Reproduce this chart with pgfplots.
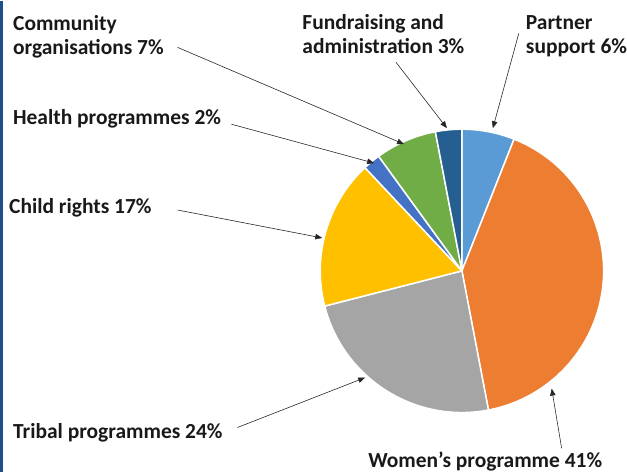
\documentclass[border=0pt]{standalone}
\usepackage{pgfplots}
\usepackage{pgfplotstable}
\pgfplotsset{compat=1.18}
\usetikzlibrary{arrows.meta}
\usepackage{fontspec}
\setmainfont{Carlito}

\definecolor{cpartner}{HTML}{5B9BD5}
\definecolor{cwomen}{HTML}{ED7D31}
\definecolor{ctribal}{HTML}{A5A5A5}
\definecolor{cchild}{HTML}{FFC000}
\definecolor{chealth}{HTML}{4472C4}
\definecolor{ccomm}{HTML}{70AD47}
\definecolor{cfund}{HTML}{255E91}
\definecolor{frame}{HTML}{1F4E8C}

% share of each area, clockwise from 12 o'clock
\pgfplotstableread[col sep=comma]{
name,value,color
Partner support,6,cpartner
Women's programme,41,cwomen
Tribal programmes,24,ctribal
Child rights,17,cchild
Health programmes,2,chealth
Community organisations,7,ccomm
Fundraising and administration,3,cfund
}\piedata

\begin{document}
\begin{tikzpicture}[
    lbl/.style={font=\fontsize{21.5}{24}\selectfont\bfseries, text=black!90, inner sep=0pt},
    lead/.style={black!85, line width=0.6pt, -{Triangle[length=7pt,width=5.5pt]}},
]
\begin{axis}[
    hide axis, scale only axis,
    width=627pt, height=472pt,
    xmin=0, xmax=627, ymin=0, ymax=472,
    clip=false,
]
\path (axis cs:0,0) rectangle (axis cs:627,472);

\def\cumul{0}
\pgfplotsforeachungrouped \i in {0,...,6} {
    \pgfplotstablegetelem{\i}{value}\of\piedata \let\v=\pgfplotsretval
    \pgfplotstablegetelem{\i}{color}\of\piedata \let\c=\pgfplotsretval
    \pgfmathsetmacro\a{90-3.6*\cumul}
    \pgfmathsetmacro\b{90-3.6*(\cumul+\v)}
    \edef\temp{\noexpand\fill[\c, draw=white, line width=1.5pt, line join=round]
        (axis cs:463,202) -- +(\a:142pt) arc[start angle=\a, end angle=\b, radius=142pt] -- cycle;}
    \temp
    \pgfmathsetmacro\cumul{\cumul+\v}
}

% labels
\node[lbl, anchor=base west] at (axis cs:13,443) {Community};
\node[lbl, anchor=base west] at (axis cs:13,419) {organisations 7\%};
\node[lbl, anchor=base west] at (axis cs:13,349) {Health programmes 2\%};
\node[lbl, anchor=base west] at (axis cs:9,259) {Child rights 17\%};
\node[lbl, anchor=base west] at (axis cs:13,34) {Tribal programmes 24\%};
\node[lbl, anchor=base west] at (axis cs:369,5) {Women’s programme 41\%};
\node[lbl, anchor=base west] at (axis cs:303,444) {Fundraising and};
\node[lbl, anchor=base west] at (axis cs:303,420) {administration 3\%};
\node[lbl, anchor=base west] at (axis cs:527,444) {Partner};
\node[lbl, anchor=base west] at (axis cs:527,420) {support 6\%};

% leader lines
\draw[lead] (axis cs:178,426) -- (axis cs:405,329);
\draw[lead] (axis cs:232,349) -- (axis cs:375,310);
\draw[lead] (axis cs:178,263) -- (axis cs:323,235);
\draw[lead] (axis cs:238,45) -- (axis cs:366,95);
\draw[lead] (axis cs:563,24) -- (axis cs:553,84);
\draw[lead] (axis cs:397,411) -- (axis cs:448,345);
\draw[lead] (axis cs:520,440) -- (axis cs:494,345);

% left frame edge
\draw[frame, line width=3pt] (axis cs:1.5,0) -- (axis cs:1.5,472);
\end{axis}
\end{tikzpicture}
\end{document}
